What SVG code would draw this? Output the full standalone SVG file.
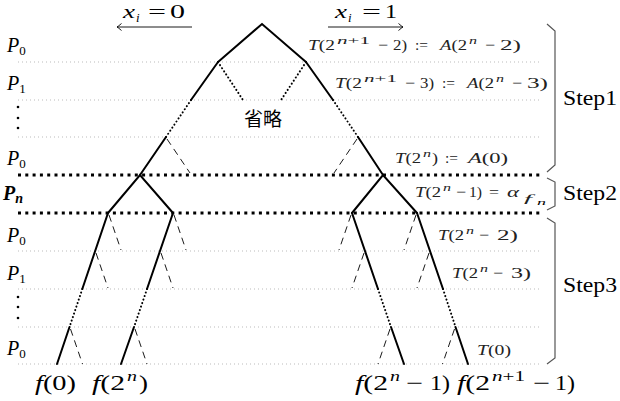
<svg xmlns="http://www.w3.org/2000/svg" width="620" height="401" viewBox="0 0 620 401">
<defs>
<style>
text{font-family:"Liberation Serif","DejaVu Serif",serif;fill:#000}
.i{font-style:italic}
.b{font-weight:bold}
.t{font-size:15px;fill:#222}
.ts{font-size:11px;fill:#222}
.grid{stroke:#bbb;stroke-width:1;stroke-dasharray:1 3;fill:none}
.thick{stroke:#000;stroke-width:3;stroke-dasharray:3 4.3;fill:none}
.solid{stroke:#000;stroke-width:2;fill:none;stroke-linecap:round}
.dot{stroke:#000;stroke-width:2;fill:none;stroke-dasharray:0.1 3.6;stroke-linecap:round}
.dash{stroke:#000;stroke-width:0.9;fill:none;stroke-dasharray:7 5}
.brk{stroke:#555;stroke-width:1.2;fill:none}
</style>
<marker id="ah" viewBox="-6 -5 8 10" markerWidth="8" markerHeight="10" refX="0" refY="0" orient="auto" markerUnits="userSpaceOnUse">
<path d="M-4.5,-3.5 Q-1.2,-0.6 0,0 Q-1.2,0.6 -4.5,3.5" stroke="#000" stroke-width="0.9" fill="none"/>
</marker>
</defs>
<rect width="620" height="401" fill="#fff"/>

<g id="grid">
<line class="grid" x1="18" y1="62" x2="540" y2="62"/>
<line class="grid" x1="18" y1="100" x2="540" y2="100"/>
<line class="grid" x1="18" y1="137" x2="540" y2="137"/>
<line class="grid" x1="18" y1="251" x2="540" y2="251"/>
<line class="grid" x1="18" y1="289" x2="540" y2="289"/>
<line class="grid" x1="18" y1="327" x2="540" y2="327"/>
<line class="grid" x1="18" y1="364" x2="540" y2="364"/>
<line class="thick" x1="18" y1="175" x2="541" y2="175"/>
<line class="thick" x1="18" y1="213" x2="541" y2="213"/>
</g>

<g id="direction-arrows">
<line x1="192" y1="27" x2="117" y2="27" stroke="#000" stroke-width="0.9" marker-end="url(#ah)"/>
<line x1="328" y1="27" x2="403" y2="27" stroke="#000" stroke-width="0.9" marker-end="url(#ah)"/>
<g font-size="19">
<text x="123" y="18" class="i" textLength="12" lengthAdjust="spacingAndGlyphs">x</text>
<text x="136" y="22" class="i" font-size="13">i</text>
<text x="148" y="18" textLength="18" lengthAdjust="spacingAndGlyphs">=</text>
<text x="170" y="18" textLength="15" lengthAdjust="spacingAndGlyphs">0</text>
<text x="335" y="18" class="i" textLength="12" lengthAdjust="spacingAndGlyphs">x</text>
<text x="348" y="22" class="i" font-size="13">i</text>
<text x="362" y="18" textLength="19" lengthAdjust="spacingAndGlyphs">=</text>
<text x="385" y="18" textLength="12" lengthAdjust="spacingAndGlyphs">1</text>
</g>
</g>

<g id="connectors">
<path class="solid" d="M218,62 L262,24 L306,62"/>
<path class="solid" d="M218,62 L191,100"/>
<path class="dot" d="M191,100 L166,137"/>
<path class="solid" d="M166,137 L140,175"/>
<path class="dot" d="M218,62 L243,100"/>
<path class="dot" d="M306,62 L281,100"/>
<path class="solid" d="M306,62 L333,100"/>
<path class="dot" d="M333,100 L358,137"/>
<path class="solid" d="M358,137 L383,175"/>
<path class="dash" d="M167,139 L190,173"/>
<path class="dash" d="M357,139 L334,173"/>
<path class="solid" d="M108,213 L140,175 L173,213"/>
<path class="solid" d="M352,213 L383,175 L417,213"/>
<path class="solid" d="M108,213 L82.3,289"/>
<path class="dot" d="M82.3,289 L69.5,327"/>
<path class="solid" d="M69.5,327 L57,364"/>
<path class="dash" d="M109,215 L121,250"/>
<path class="dash" d="M96,253 L108,288"/>
<path class="dash" d="M70.5,329 L82.5,364"/>
<path class="solid" d="M173,213 L147,289"/>
<path class="dot" d="M147,289 L134,327"/>
<path class="solid" d="M134,327 L121,364"/>
<path class="dash" d="M174,215 L186,250"/>
<path class="dash" d="M161,253 L173,288"/>
<path class="dash" d="M135,329 L147,364"/>
<path class="solid" d="M352,213 L378,289"/>
<path class="dot" d="M378,289 L391,327"/>
<path class="solid" d="M391,327 L404,364"/>
<path class="dash" d="M351,215 L339,250"/>
<path class="dash" d="M364,253 L352,288"/>
<path class="dash" d="M390,329 L378,364"/>
<path class="solid" d="M417,213 L443,289"/>
<path class="dot" d="M443,289 L455.5,327"/>
<path class="solid" d="M455.5,327 L468,364"/>
<path class="dash" d="M416,215 L404,250"/>
<path class="dash" d="M429,253 L417,288"/>
<path class="dash" d="M454.5,329 L442.5,364"/>
</g>

<g id="omitted">
<text x="263" y="126" style="font-family:'Noto Sans CJK JP','Noto Sans CJK SC',sans-serif" font-size="19" text-anchor="middle" fill="#333">省略</text>
</g>

<g id="row-labels" font-size="20">
<text x="7" y="52"><tspan class="i">P</tspan><tspan font-size="13" dy="3">0</tspan></text>
<text x="7" y="90"><tspan class="i">P</tspan><tspan font-size="13" dy="3">1</tspan></text>
<circle cx="18" cy="107" r="1.3"/>
<circle cx="18" cy="118" r="1.3"/>
<circle cx="18" cy="128" r="1.3"/>
<text x="7" y="165"><tspan class="i">P</tspan><tspan font-size="13" dy="3">0</tspan></text>
<text x="3" y="200" class="b i"><tspan>P</tspan><tspan font-size="14" dy="3">n</tspan></text>
<text x="7" y="242"><tspan class="i">P</tspan><tspan font-size="13" dy="3">0</tspan></text>
<text x="7" y="280"><tspan class="i">P</tspan><tspan font-size="13" dy="3">1</tspan></text>
<circle cx="18" cy="297" r="1.3"/>
<circle cx="18" cy="307" r="1.3"/>
<circle cx="18" cy="318" r="1.3"/>
<text x="7" y="355"><tspan class="i">P</tspan><tspan font-size="13" dy="3">0</tspan></text>
</g>

<g id="value-labels">
<g id="label-T1">
<text class="t" x="308" y="50" textLength="27" lengthAdjust="spacingAndGlyphs"><tspan class="i">T</tspan>(2</text>
<text class="ts" x="337" y="44" textLength="33" lengthAdjust="spacingAndGlyphs"><tspan class="i">n</tspan>+1</text>
<text class="t" x="378" y="50" textLength="10" lengthAdjust="spacingAndGlyphs">−</text>
<text class="t" x="393" y="50" textLength="14" lengthAdjust="spacingAndGlyphs">2)</text>
<text class="t" x="415" y="50" textLength="13" lengthAdjust="spacingAndGlyphs">:=</text>
<text class="t" x="440" y="50" textLength="27" lengthAdjust="spacingAndGlyphs"><tspan class="i">A</tspan>(2</text>
<text class="ts i" x="469" y="44" textLength="8" lengthAdjust="spacingAndGlyphs">n</text>
<text class="t" x="485" y="50" textLength="10" lengthAdjust="spacingAndGlyphs">−</text>
<text class="t" x="500" y="50" textLength="21" lengthAdjust="spacingAndGlyphs">2)</text>
</g>
<g id="label-T2">
<text class="t" x="335" y="88" textLength="27" lengthAdjust="spacingAndGlyphs"><tspan class="i">T</tspan>(2</text>
<text class="ts" x="364" y="82" textLength="33" lengthAdjust="spacingAndGlyphs"><tspan class="i">n</tspan>+1</text>
<text class="t" x="405" y="88" textLength="10" lengthAdjust="spacingAndGlyphs">−</text>
<text class="t" x="420" y="88" textLength="14" lengthAdjust="spacingAndGlyphs">3)</text>
<text class="t" x="442" y="88" textLength="13" lengthAdjust="spacingAndGlyphs">:=</text>
<text class="t" x="467" y="88" textLength="27" lengthAdjust="spacingAndGlyphs"><tspan class="i">A</tspan>(2</text>
<text class="ts i" x="496" y="82" textLength="8" lengthAdjust="spacingAndGlyphs">n</text>
<text class="t" x="512" y="88" textLength="10" lengthAdjust="spacingAndGlyphs">−</text>
<text class="t" x="527" y="88" textLength="21" lengthAdjust="spacingAndGlyphs">3)</text>
</g>
<g id="label-T3">
<text class="t" x="395" y="163" textLength="26" lengthAdjust="spacingAndGlyphs"><tspan class="i">T</tspan>(2</text>
<text class="ts i" x="423" y="157" textLength="8" lengthAdjust="spacingAndGlyphs">n</text>
<text class="t" x="432" y="163" textLength="6" lengthAdjust="spacingAndGlyphs">)</text>
<text class="t" x="445" y="163" textLength="13" lengthAdjust="spacingAndGlyphs">:=</text>
<text class="t" x="468" y="163" textLength="40" lengthAdjust="spacingAndGlyphs"><tspan class="i">A</tspan>(0)</text>
</g>
<g id="label-T4">
<text class="t" x="415" y="197" textLength="26" lengthAdjust="spacingAndGlyphs"><tspan class="i">T</tspan>(2</text>
<text class="ts i" x="443" y="191" textLength="8" lengthAdjust="spacingAndGlyphs">n</text>
<text class="t" x="456" y="197" textLength="10" lengthAdjust="spacingAndGlyphs">−</text>
<text class="t" x="469" y="197" textLength="13" lengthAdjust="spacingAndGlyphs">1)</text>
<text class="t" x="489" y="197" textLength="10" lengthAdjust="spacingAndGlyphs">=</text>
<text class="t i" x="507" y="197" textLength="12" lengthAdjust="spacingAndGlyphs">α</text>
<text class="ts i" x="524" y="202" textLength="8" lengthAdjust="spacingAndGlyphs">f</text>
<text class="i" font-size="8" fill="#222" x="537" y="205" textLength="9" lengthAdjust="spacingAndGlyphs">n</text>
</g>
<g id="label-T5">
<text class="t" x="438" y="240" textLength="26" lengthAdjust="spacingAndGlyphs"><tspan class="i">T</tspan>(2</text>
<text class="ts i" x="466" y="234" textLength="8" lengthAdjust="spacingAndGlyphs">n</text>
<text class="t" x="479" y="240" textLength="10" lengthAdjust="spacingAndGlyphs">−</text>
<text class="t" x="497" y="240" textLength="21" lengthAdjust="spacingAndGlyphs">2)</text>
</g>
<g id="label-T6">
<text class="t" x="452" y="278" textLength="26" lengthAdjust="spacingAndGlyphs"><tspan class="i">T</tspan>(2</text>
<text class="ts i" x="480" y="272" textLength="8" lengthAdjust="spacingAndGlyphs">n</text>
<text class="t" x="493" y="278" textLength="10" lengthAdjust="spacingAndGlyphs">−</text>
<text class="t" x="511" y="278" textLength="20" lengthAdjust="spacingAndGlyphs">3)</text>
</g>
<g id="label-T7">
<text class="t" x="477" y="355" textLength="34" lengthAdjust="spacingAndGlyphs"><tspan class="i">T</tspan>(0)</text>
</g>
</g>

<g id="steps">
<path class="brk" d="M547,24 L555,31 L555,165 L547,172"/>
<path class="brk" d="M547,178 L555,182 L555,206 L547,210"/>
<path class="brk" d="M547,218 L555,223 L555,358 L547,364"/>
<text font-size="20" x="563" y="105" textLength="54" lengthAdjust="spacingAndGlyphs">Step1</text>
<text font-size="20" x="563" y="200" textLength="54" lengthAdjust="spacingAndGlyphs">Step2</text>
<text font-size="20" x="563" y="292" textLength="54" lengthAdjust="spacingAndGlyphs">Step3</text>
</g>

<g id="leaf-labels" font-size="21">
<text x="35" y="390" textLength="41" lengthAdjust="spacingAndGlyphs"><tspan class="i">f</tspan>(0)</text>
<text x="92" y="390" textLength="33" lengthAdjust="spacingAndGlyphs"><tspan class="i">f</tspan>(2</text>
<text x="127" y="381" class="i" font-size="14" textLength="10" lengthAdjust="spacingAndGlyphs">n</text>
<text x="139" y="390" textLength="9" lengthAdjust="spacingAndGlyphs">)</text>
<text x="355" y="390" textLength="33" lengthAdjust="spacingAndGlyphs"><tspan class="i">f</tspan>(2</text>
<text x="390" y="381" class="i" font-size="14" textLength="10" lengthAdjust="spacingAndGlyphs">n</text>
<text x="406" y="390" textLength="17" lengthAdjust="spacingAndGlyphs">−</text>
<text x="430" y="390" textLength="20" lengthAdjust="spacingAndGlyphs">1)</text>
<text x="457" y="390" textLength="33" lengthAdjust="spacingAndGlyphs"><tspan class="i">f</tspan>(2</text>
<text x="492" y="381" font-size="14" textLength="33" lengthAdjust="spacingAndGlyphs"><tspan class="i">n</tspan>+1</text>
<text x="533" y="390" textLength="17" lengthAdjust="spacingAndGlyphs">−</text>
<text x="555" y="390" textLength="20" lengthAdjust="spacingAndGlyphs">1)</text>
</g>
</svg>
